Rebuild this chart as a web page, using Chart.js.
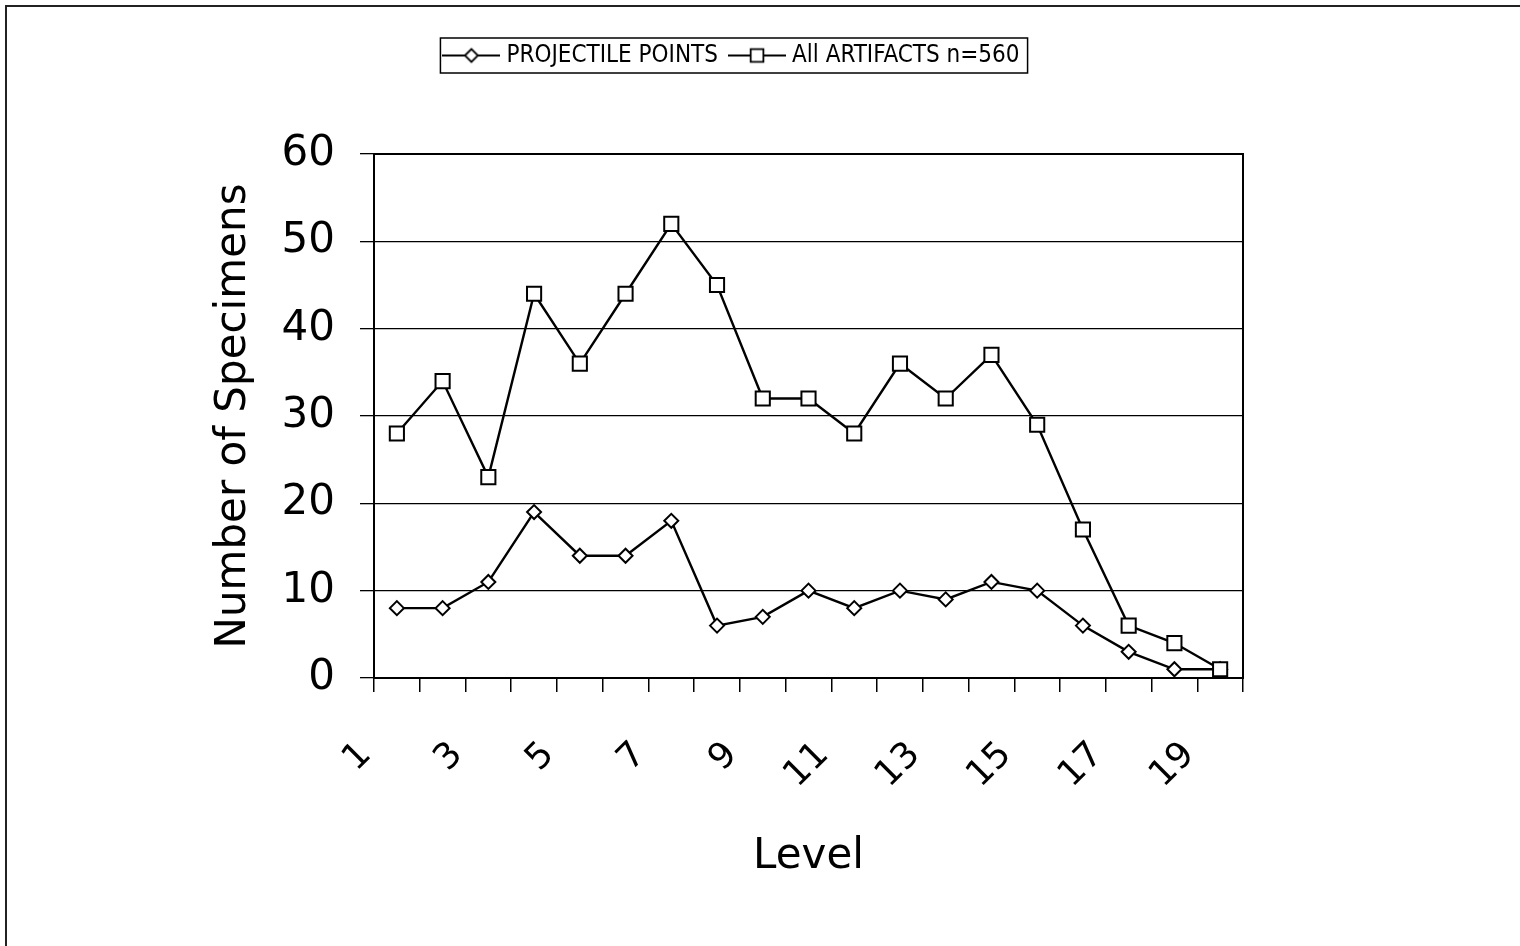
<!DOCTYPE html>
<html>
<head>
<meta charset="utf-8">
<title>Number of Specimens by Level</title>
<script src="https://cdn.jsdelivr.net/npm/chart.js@4.4.1/dist/chart.umd.min.js"></script>
<style>
  html, body { margin: 0; padding: 0; background: #fff; overflow: hidden; }
  #wrap { position: relative; width: 1520px; height: 946px; }
  #frame { position: absolute; left: 5px; top: 5px; width: 1530px; height: 960px;
           border-left: 2px solid #222; border-top: 2px solid #222; pointer-events: none; }
  canvas { display: block; }
</style>
</head>
<body>
<div id="wrap">
  <canvas id="chart" width="1520" height="946"></canvas>
  <div id="frame"></div>
</div>
<script>
// Excavation levels (category axis)
const levels = ['1','2','3','4','5','6','7','8','9','10','11','12','13','14','15','16','17','18','19'];
// Specimen counts per level
const projectilePoints = [8, 8, 11, 19, 14, 14, 18, 6, 7, 10, 8, 10, 9, 11, 10, 6, 3, 1, 1];
const allArtifacts     = [28, 34, 23, 44, 36, 44, 52, 45, 32, 32, 28, 36, 32, 37, 29, 17, 6, 4, 1];
// Value axis range
const yMin = 0, yMax = 60, yStep = 10;

const BLACK = '#000';
const LEGEND_CENTER_X = 734;
const LEGEND_MID_Y = 55.5;

Chart.defaults.font.family = '"DejaVu Sans", "Liberation Sans", sans-serif';
Chart.defaults.color = BLACK;

// Legend swatch: a short line with the series marker in the middle
function legendSwatch(style, radius) {
  const c = document.createElement('canvas');
  c.width = 58; c.height = 22;
  const ctx = c.getContext('2d');
  ctx.strokeStyle = BLACK;
  ctx.lineWidth = 2;
  ctx.beginPath();
  ctx.moveTo(0, 11); ctx.lineTo(58, 11);
  ctx.stroke();
  ctx.fillStyle = '#fff';
  ctx.lineWidth = 1.8;
  Chart.helpers.drawPoint(ctx, { pointStyle: style, radius: radius, borderWidth: 1.8, rotation: 0 }, 29, 11);
  return c;
}
const swatches = [legendSwatch('rectRot', 6.5), legendSwatch('rect', 9)];

// Plot frame, legend placement and legend border
const chartDecor = {
  id: 'chartDecor',
  afterLayout(chart) {
    const lg = chart.legend;
    const dx = LEGEND_CENTER_X - (lg.left + lg.right) / 2;
    lg.left += dx; lg.right += dx;
    const f = lg.options.labels.font.size;
    const p = lg.options.labels.padding;
    const top = LEGEND_MID_Y - f / 2 - p;
    const h = lg.height;
    lg.top = top; lg.bottom = top + h;
  },
  beforeDatasetsDraw(chart) {
    const { ctx, chartArea: a } = chart;
    ctx.save();
    ctx.strokeStyle = BLACK;
    ctx.lineWidth = 2;
    ctx.strokeRect(a.left, a.top, a.right - a.left, a.bottom - a.top);
    ctx.restore();
  },
  afterDraw(chart) {
    const boxes = chart.legend.legendHitBoxes;
    if (!boxes || !boxes.length) return;
    const left = Math.min(...boxes.map(b => b.left)) - 8;
    const right = Math.max(...boxes.map(b => b.left + b.width)) + 8;
    const { ctx } = chart;
    ctx.save();
    ctx.strokeStyle = BLACK;
    ctx.lineWidth = 1.5;
    ctx.strokeRect(left, LEGEND_MID_Y - 17.5, right - left, 35);
    ctx.restore();
  }
};

new Chart(document.getElementById('chart'), {
  type: 'line',
  data: {
    labels: levels,
    datasets: [
      {
        label: 'PROJECTILE POINTS',
        data: projectilePoints,
        order: 1,
        borderColor: BLACK,
        borderWidth: 2.4,
        tension: 0,
        pointStyle: 'rectRot',
        pointRadius: 7,
        pointBackgroundColor: '#fff',
        pointBorderColor: BLACK,
        pointBorderWidth: 2
      },
      {
        label: 'All ARTIFACTS n=560',
        data: allArtifacts,
        order: 0,
        borderColor: BLACK,
        borderWidth: 2.4,
        tension: 0,
        pointStyle: 'rect',
        pointRadius: 10,
        pointBackgroundColor: '#fff',
        pointBorderColor: BLACK,
        pointBorderWidth: 2
      }
    ]
  },
  options: {
    responsive: false,
    animation: false,
    devicePixelRatio: 1,
    layout: { padding: { top: 104, left: 206, right: 277, bottom: 60 } },
    plugins: {
      tooltip: { enabled: false },
      legend: {
        position: 'top',
        labels: {
          usePointStyle: true,
          pointStyleWidth: 46,
          padding: 16,
          color: BLACK,
          font: { family: '"Liberation Sans Narrow", "DejaVu Sans Condensed", sans-serif', size: 24 },
          generateLabels: chart => chart.data.datasets.map((ds, i) => ({
            text: ds.label,
            pointStyle: swatches[i],
            fillStyle: '#fff',
            strokeStyle: BLACK,
            lineWidth: 0,
            fontColor: BLACK,
            hidden: false,
            datasetIndex: i
          }))
        }
      }
    },
    scales: {
      x: {
        offset: true,
        afterFit: s => { s.height = 208; },
        grid: { offset: true, drawOnChartArea: false, color: BLACK, lineWidth: 1.5, tickLength: 14 },
        border: { color: BLACK, width: 2 },
        ticks: {
          autoSkip: false,
          minRotation: 45,
          maxRotation: 45,
          padding: 42,
          labelOffset: -31,
          color: BLACK,
          font: { size: 36 },
          callback: function (value, index) {
            return index % 2 === 0 ? this.getLabelForValue(value) : '';
          }
        },
        title: {
          display: true,
          text: 'Level',
          color: BLACK,
          font: { size: 42 },
          padding: { top: 0, bottom: 4 }
        }
      },
      y: {
        min: yMin,
        max: yMax,
        afterFit: s => { s.width = 168; },
        grid: { color: BLACK, lineWidth: 1.3, tickLength: 14 },
        border: { color: BLACK, width: 2 },
        ticks: {
          stepSize: yStep,
          padding: 25,
          color: BLACK,
          font: { size: 42 }
        },
        title: {
          display: true,
          text: 'Number of Specimens',
          color: BLACK,
          font: { size: 42 },
          padding: { top: 3, bottom: 0 }
        }
      }
    }
  },
  plugins: [chartDecor]
});
</script>
</body>
</html>
